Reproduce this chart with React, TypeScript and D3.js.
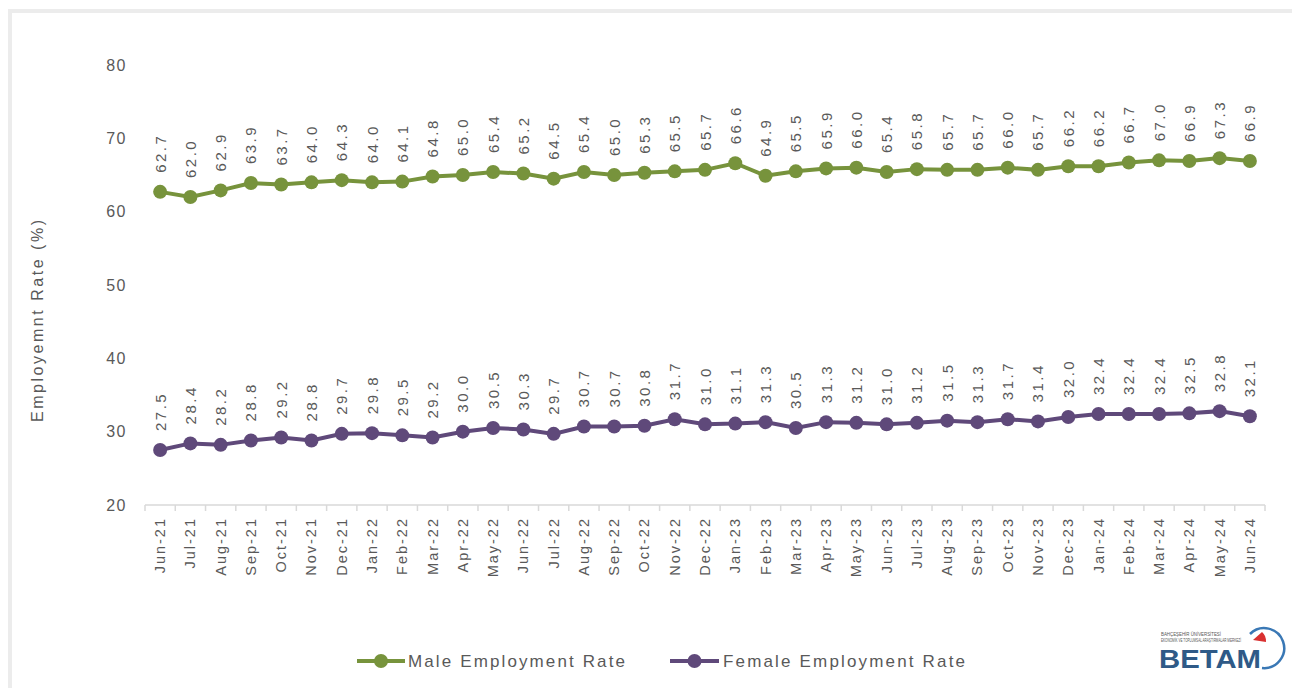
import React from "react";
import * as d3 from "d3";

const months = [
  "Jun-21","Jul-21","Aug-21","Sep-21","Oct-21","Nov-21","Dec-21",
  "Jan-22","Feb-22","Mar-22","Apr-22","May-22","Jun-22","Jul-22","Aug-22","Sep-22","Oct-22","Nov-22","Dec-22",
  "Jan-23","Feb-23","Mar-23","Apr-23","May-23","Jun-23","Jul-23","Aug-23","Sep-23","Oct-23","Nov-23","Dec-23",
  "Jan-24","Feb-24","Mar-24","Apr-24","May-24","Jun-24",
];
const maleRate = [
  62.7, 62.0, 62.9, 63.9, 63.7, 64.0, 64.3,
  64.0, 64.1, 64.8, 65.0, 65.4, 65.2, 64.5, 65.4, 65.0, 65.3, 65.5, 65.7,
  66.6, 64.9, 65.5, 65.9, 66.0, 65.4, 65.8, 65.7, 65.7, 66.0, 65.7, 66.2,
  66.2, 66.7, 67.0, 66.9, 67.3, 66.9,
];
const femaleRate = [
  27.5, 28.4, 28.2, 28.8, 29.2, 28.8, 29.7,
  29.8, 29.5, 29.2, 30.0, 30.5, 30.3, 29.7, 30.7, 30.7, 30.8, 31.7, 31.0,
  31.1, 31.3, 30.5, 31.3, 31.2, 31.0, 31.2, 31.5, 31.3, 31.7, 31.4, 32.0,
  32.4, 32.4, 32.4, 32.5, 32.8, 32.1,
];
const yTicks = [20, 30, 40, 50, 60, 70, 80];
const seriesNames = ["Male Employment Rate", "Female Employment Rate"];
const yTitle = "Employemnt Rate (%)";

const GREEN = "#77933C";
const PURPLE = "#5F497A";
const TEXT = "#595959";
const FONT = "'Liberation Sans', Arial, sans-serif";

export default function App() {
  const W = 1292, H = 688;
  const x = d3.scaleBand<string>().domain(months).range([145, 1265]);
  const y = d3.scaleLinear().domain([20, 80]).range([505, 65]);
  const cx = (m: string) => (x(m) as number) + x.bandwidth() / 2;
  const line = d3.line<number>().x((_, i) => cx(months[i])).y((d) => y(d));

  const series = [
    { name: seriesNames[0], values: maleRate, color: GREEN },
    { name: seriesNames[1], values: femaleRate, color: PURPLE },
  ];

  const legend = [
    { x0: 357, x1: 405, tx: 408, tl: 217, color: GREEN, name: seriesNames[0] },
    { x0: 670, x1: 719, tx: 723, tl: 242, color: PURPLE, name: seriesNames[1] },
  ];

  return (
    <svg width={W} height={H} style={{ position: "absolute", left: 0, top: 0, background: "#fff" }} fontFamily={FONT}>
      <rect x={0} y={0} width={W} height={H} fill="#fff" />
      {/* frame */}
      <rect x={10} y={11} width={W + 20} height={H + 20} fill="none" stroke="#ececec" strokeWidth={4} />

      {/* y axis labels */}
      {yTicks.map((t) => (
        <text key={t} x={127} y={y(t)} textAnchor="end" dominantBaseline="central" fontSize={16} letterSpacing={1.5} fill={TEXT}>
          {t}
        </text>
      ))}
      <text
        transform={`translate(37,${321}) rotate(-90)`}
        textAnchor="middle"
        dominantBaseline="central"
        fontSize={16}
        fill={TEXT}
        textLength={202}
        lengthAdjust="spacing"
      >
        {yTitle}
      </text>

      {/* x axis */}
      <line x1={145} x2={1265} y1={505} y2={505} stroke="#d9d9d9" strokeWidth={1.5} />
      {months.map((m) => (
        <line key={"t" + m} x1={x(m) as number} x2={x(m) as number} y1={505} y2={511} stroke="#d9d9d9" strokeWidth={1.5} />
      ))}
      <line x1={1265} x2={1265} y1={505} y2={511} stroke="#d9d9d9" strokeWidth={1.5} />
      {months.map((m) => (
        <text
          key={"l" + m}
          transform={`translate(${cx(m)},517) rotate(-90)`}
          textAnchor="end"
          dominantBaseline="central"
          fontSize={14.5}
          letterSpacing={2}
          fill={TEXT}
        >
          {m}
        </text>
      ))}

      {/* series */}
      {series.map((s) => (
        <g key={s.name}>
          <path d={line(s.values) as string} fill="none" stroke={s.color} strokeWidth={4} />
          {s.values.map((v, i) => (
            <circle key={i} cx={cx(months[i])} cy={y(v)} r={7} fill={s.color} />
          ))}
          {s.values.map((v, i) => (
            <text
              key={"d" + i}
              transform={`translate(${cx(months[i])},${y(v) - 19}) rotate(-90)`}
              textAnchor="start"
              dominantBaseline="central"
              fontSize={15}
              letterSpacing={2.5}
              fill={TEXT}
            >
              {v.toFixed(1)}
            </text>
          ))}
        </g>
      ))}

      {/* legend */}
      {legend.map((l) => (
        <g key={l.name}>
          <line x1={l.x0} x2={l.x1} y1={661} y2={661} stroke={l.color} strokeWidth={4} />
          <circle cx={(l.x0 + l.x1) / 2} cy={661} r={7} fill={l.color} />
          <text x={l.tx} y={661} dominantBaseline="central" fontSize={17} fill={TEXT} textLength={l.tl} lengthAdjust="spacing">
            {l.name}
          </text>
        </g>
      ))}

      {/* BETAM logo */}
      <g>
        <text x={1161} y={636} fontSize={4.5} fill="#555" textLength={60} lengthAdjust="spacingAndGlyphs">BAHÇEŞEHİR ÜNİVERSİTESİ</text>
        <text x={1161} y={642} fontSize={4.5} fill="#555" textLength={80} lengthAdjust="spacingAndGlyphs">EKONOMİK VE TOPLUMSAL ARAŞTIRMALAR MERKEZİ</text>
        <text x={1159} y={668} fontSize={25} fontWeight={600} fill="#2F5A87" textLength={102} lengthAdjust="spacingAndGlyphs">BETAM</text>
        <path d="M1250,634 A20,20 0 1,1 1262,668" fill="none" stroke="#3A78B5" strokeWidth={2.5} />
        <path d="M1253,640 L1262,632 A12,12 0 0,1 1266,642 Z" fill="#D93030" />
      </g>
    </svg>
  );
}
